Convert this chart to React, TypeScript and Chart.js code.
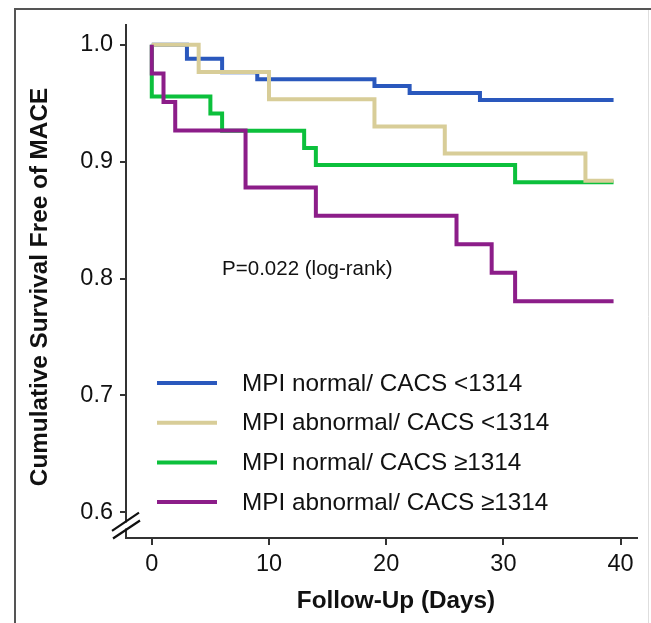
import React, { useEffect, useRef } from "react";
import { Chart, registerables } from "chart.js";

Chart.register(...registerables);

// ---- Data ----
const seriesLabels = [
  "MPI normal/ CACS <1314",
  "MPI abnormal/ CACS <1314",
  "MPI normal/ CACS \u22651314",
  "MPI abnormal/ CACS \u22651314",
];
const seriesColors = ["#2a58bd", "#d8cd98", "#0cc03c", "#8c1d89"];

const blueDays = [0, 3, 6, 9, 19, 22, 28, 39.4];
const blueSurv = [1, 0.9882, 0.9765, 0.9706, 0.9647, 0.9588, 0.9529, 0.9529];

const beigeDays = [0, 4, 10, 19, 25, 37, 39.4];
const beigeSurv = [1, 0.9767, 0.9535, 0.9302, 0.907, 0.8837, 0.8837];

const greenDays = [0, 0, 5, 6, 13, 14, 31, 39.4];
const greenSurv = [1, 0.9559, 0.9412, 0.9265, 0.9118, 0.8971, 0.8824, 0.8824];

const purpleDays = [0, 0, 1, 2, 8, 14, 26, 29, 31, 39.4];
const purpleSurv = [1, 0.9756, 0.9512, 0.9268, 0.878, 0.8537, 0.8293, 0.8049, 0.7805, 0.7805];

const xTicks = [0, 10, 20, 30, 40];
const yTicks = [0.6, 0.7, 0.8, 0.9, 1.0];
const annotationText = "P=0.022 (log-rank)";
const xTitle = "Follow-Up (Days)";
const yTitle = "Cumulative Survival Free of MACE";

const FONT = "'Liberation Sans', Arial, Helvetica, sans-serif";

const toPoints = (days: number[], surv: number[]) =>
  days.map((d, i) => ({ x: d, y: surv[i] }));

const framePlugin = {
  id: "frame",
  beforeDraw(chart: any) {
    const ctx = chart.ctx;
    ctx.save();
    ctx.fillStyle = "#ffffff";
    ctx.fillRect(0, 0, chart.width, chart.height);
    ctx.strokeStyle = "#555";
    ctx.lineWidth = 2;
    ctx.beginPath();
    ctx.moveTo(14, 9);
    ctx.lineTo(chart.width, 9);
    ctx.moveTo(15, 9);
    ctx.lineTo(15, chart.height);
    ctx.stroke();
    ctx.strokeStyle = "#dedede";
    ctx.lineWidth = 1;
    ctx.beginPath();
    ctx.moveTo(648.5, 10);
    ctx.lineTo(648.5, chart.height);
    ctx.stroke();
    ctx.restore();
  },
};

const overlayPlugin = {
  id: "overlay",
  afterDraw(chart: any) {
    const ctx = chart.ctx;
    const area = chart.chartArea;
    const xs = chart.scales.x;
    const ys = chart.scales.y;
    ctx.save();

    // axis break
    const ax = area.left;
    const c1 = area.bottom - 16.5;
    const c2 = area.bottom - 8.5;
    ctx.fillStyle = "#ffffff";
    ctx.fillRect(ax - 3, c1 + 1, 6, c2 - c1 - 2);
    ctx.strokeStyle = "#111";
    ctx.lineWidth = 2.2;
    ctx.beginPath();
    ctx.moveTo(ax - 14, c1 + 9.3);
    ctx.lineTo(ax + 13, c1 - 8.8);
    ctx.moveTo(ax - 13, c2 + 9);
    ctx.lineTo(ax + 14, c2 - 9);
    ctx.stroke();

    // axis titles
    ctx.fillStyle = "#111";
    ctx.font = `bold 24.3px ${FONT}`;
    ctx.textAlign = "center";
    ctx.textBaseline = "middle";
    ctx.fillText(xTitle, area.left + 270, area.bottom + 63);
    ctx.save();
    ctx.translate(40, area.top + 262);
    ctx.rotate(-Math.PI / 2);
    ctx.fillText(yTitle, 0, 0);
    ctx.restore();

    // annotation
    ctx.fillStyle = "#111";
    ctx.font = `20.5px ${FONT}`;
    ctx.textAlign = "left";
    ctx.textBaseline = "middle";
    ctx.fillText(annotationText, xs.getPixelForValue(6.0), ys.getPixelForValue(0.808));

    // legend
    const lx0 = area.left + 31;
    const lx1 = area.left + 91;
    const tx = area.left + 116;
    const y0 = area.top + 358;
    const dy = 39.7;
    chart.data.datasets.forEach((ds: any) => {
      const li = seriesLabels.indexOf(ds.label);
      const yy = y0 + li * dy;
      ctx.strokeStyle = ds.borderColor;
      ctx.lineWidth = 4;
      ctx.beginPath();
      ctx.moveTo(lx0, yy);
      ctx.lineTo(lx1, yy);
      ctx.stroke();
      ctx.fillStyle = "#111";
      ctx.font = `24.3px ${FONT}`;
      ctx.textAlign = "left";
      ctx.textBaseline = "middle";
      ctx.fillText(ds.label, tx, yy + 1);
    });
    ctx.restore();
  },
};

export default function App() {
  const canvasRef = useRef<HTMLCanvasElement | null>(null);

  useEffect(() => {
    const canvas = canvasRef.current;
    if (!canvas) return;
    const series = [
      { days: blueDays, surv: blueSurv, order: 3 },
      { days: beigeDays, surv: beigeSurv, order: 1 },
      { days: greenDays, surv: greenSurv, order: 2 },
      { days: purpleDays, surv: purpleSurv, order: 0 },
    ];
    const chart = new Chart(canvas, {
      type: "line",
      data: {
        datasets: series.map((s, i) => ({
          label: seriesLabels[i],
          data: toPoints(s.days, s.surv),
          borderColor: seriesColors[i],
          backgroundColor: seriesColors[i],
          borderWidth: 4,
          stepped: "before" as const,
          pointRadius: 0,
          fill: false,
          order: s.order,
          borderCapStyle: "butt" as const,
          borderJoinStyle: "miter" as const,
        })),
      },
      options: {
        animation: false,
        responsive: false,
        devicePixelRatio: 1,
        layout: { padding: { left: 0, top: 25, right: 14, bottom: 0 } },
        plugins: {
          legend: { display: false },
          tooltip: { enabled: false },
        },
        scales: {
          x: {
            type: "linear",
            min: -2.2,
            max: 41.4,
            afterBuildTicks: (s: any) => {
              s.ticks = xTicks.map((v) => ({ value: v }));
            },
            afterFit: (s: any) => {
              s.height = 85;
            },
            grid: {
              drawOnChartArea: false,
              drawTicks: true,
              tickLength: 7,
              color: "#333",
              lineWidth: 2,
            },
            border: { display: true, color: "#333", width: 2 },
            ticks: {
              font: { family: FONT, size: 23.5 },
              color: "#111",
              padding: 5,
              maxRotation: 0,
              autoSkip: false,
              callback: (v: any) => String(v),
            },
            title: { display: false },
          },
          y: {
            type: "linear",
            min: 0.578,
            max: 1.017,
            afterBuildTicks: (s: any) => {
              s.ticks = yTicks.map((v) => ({ value: v }));
            },
            afterFit: (s: any) => {
              s.width = 126;
            },
            grid: {
              drawOnChartArea: false,
              drawTicks: true,
              tickLength: 6,
              color: "#333",
              lineWidth: 2,
            },
            border: { display: true, color: "#333", width: 2 },
            ticks: {
              font: { family: FONT, size: 23.5 },
              color: "#111",
              padding: 7,
              autoSkip: false,
              callback: (v: any) => Number(v).toFixed(1),
            },
            title: { display: false },
          },
        },
      },
      plugins: [framePlugin, overlayPlugin],
    });
    return () => chart.destroy();
  }, []);

  return (
    <div style={{ position: "absolute", left: 0, top: 0, width: 651, height: 623, background: "#fff" }}>
      <canvas ref={canvasRef} width={651} height={623} style={{ display: "block", width: 651, height: 623 }} />
    </div>
  );
}
